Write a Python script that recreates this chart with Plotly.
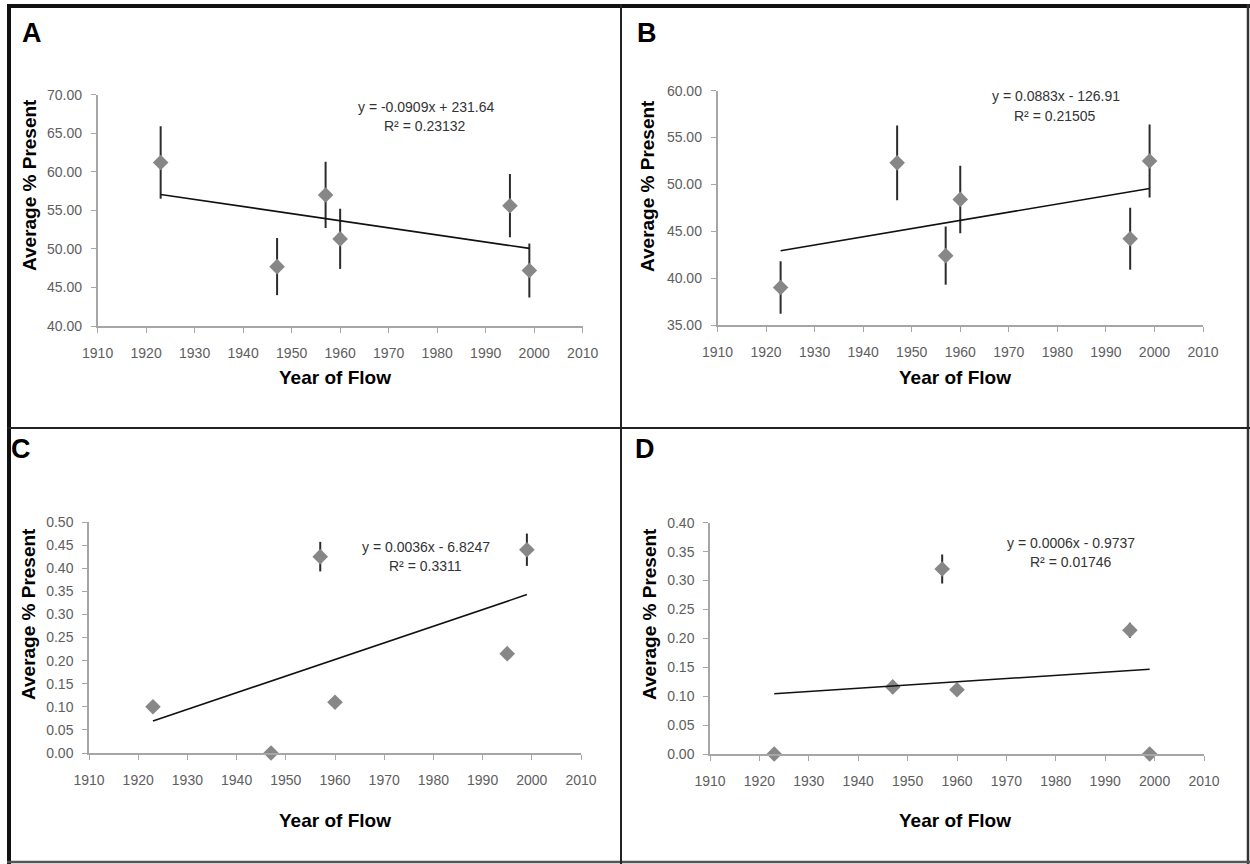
import numpy as np
import plotly.graph_objects as go

W, H = 1250, 864

# ---------------- data ----------------
years = [1923, 1947, 1957, 1960, 1995, 1999]

a_vals = [61.2, 47.7, 57.0, 51.3, 55.6, 47.2]
a_err = [4.7, 3.7, 4.3, 3.9, 4.1, 3.5]

b_vals = [39.0, 52.3, 42.4, 48.4, 44.2, 52.5]
b_err = [2.8, 4.0, 3.1, 3.6, 3.3, 3.9]

c_vals = [0.10, 0.00, 0.425, 0.11, 0.215, 0.44]
c_err = [0.01, 0.0, 0.032, 0.01, 0.01, 0.035]

d_vals = [0.00, 0.116, 0.32, 0.111, 0.214, 0.00]
d_err = [0.0, 0.012, 0.025, 0.006, 0.013, 0.0]

panel_letters = ["A", "B", "C", "D"]
equations = ["y = -0.0909x + 231.64", "y = 0.0883x - 126.91",
             "y = 0.0036x - 6.8247", "y = 0.0006x - 0.9737"]
r2_texts = ["R² = 0.23132", "R² = 0.21505", "R² = 0.3311", "R² = 0.01746"]
y_ranges = [(40, 70), (35, 60), (0, 0.5), (0, 0.4)]
y_dticks = [5, 5, 0.05, 0.05]
x_range = (1910, 2010)
x_title = "Year of Flow"
y_title = "Average % Present"

# ---------------- layout geometry (pixels) ----------------
def fx(x):
    return x / W

def fy(y):
    return 1 - y / H

# plot area pixel boxes: (left, right, top, bottom)
boxes = [(97.6, 582.7, 94.7, 326.0),
         (717.5, 1203.0, 90.7, 325.0),
         (89.0, 581.0, 522.0, 753.0),
         (710.0, 1204.0, 522.7, 754.0)]
letter_pos = [(32, 33), (647, 33), (21, 449), (645, 449)]
ytitle_pos = [(30, 185), (647, 186), (28, 614), (649, 614)]
xtitle_pos = [(335, 377), (955, 377), (335, 820), (955, 820)]
eq_pos = [(426, 107), (1056, 96), (426, 547), (1071, 543)]
r2_pos = [(425, 126), (1055, 116), (425, 566), (1071, 562)]

series = [(a_vals, a_err), (b_vals, b_err), (c_vals, c_err), (d_vals, d_err)]

fig = go.Figure()
TICK_FONT = dict(family="Liberation Sans, Arial, sans-serif", size=14, color="#5e5e5e")
AXIS_COLOR = "#a6a6a6"

annotations = []
for i, ((vals, errs), box) in enumerate(zip(series, boxes)):
    n = "" if i == 0 else str(i + 1)
    xa, ya = "x" + n, "y" + n
    # points with error bars
    fig.add_trace(go.Scatter(
        x=years, y=vals, mode="markers", xaxis=xa, yaxis=ya,
        marker=dict(symbol="diamond", size=12, color="#878787"),
        error_y=dict(type="data", array=errs, visible=True, color="#2b2b2b",
                     thickness=2, width=0),
        cliponaxis=False, showlegend=False))
    # linear trend line fitted from the data
    slope, icpt = np.polyfit(years, vals, 1)
    tx = [min(years), max(years)]
    ty = [slope * t + icpt for t in tx]
    fig.add_trace(go.Scatter(
        x=tx, y=ty, mode="lines", xaxis=xa, yaxis=ya,
        line=dict(color="#111111", width=1.6), showlegend=False,
        cliponaxis=False))

    left, right, top, bottom = box
    fig.layout["xaxis" + n] = dict(
        domain=[fx(left), fx(right)], range=list(x_range), anchor=ya,
        dtick=10, tick0=1910, showgrid=False, zeroline=False,
        showline=True, linecolor=AXIS_COLOR, linewidth=1.5,
        ticks="outside", ticklen=5, tickcolor=AXIS_COLOR, tickwidth=1.2,
        tickfont=TICK_FONT, ticklabelstandoff=8, fixedrange=True,
        automargin=False)
    fig.layout["yaxis" + n] = dict(
        domain=[fy(bottom), fy(top)], range=list(y_ranges[i]), anchor=xa,
        dtick=y_dticks[i], tick0=0, tickformat=".2f", showgrid=False,
        zeroline=False, showline=True, linecolor=AXIS_COLOR, linewidth=1.5,
        ticks="outside", ticklen=5, tickcolor=AXIS_COLOR, tickwidth=1.2,
        tickfont=TICK_FONT, ticklabelstandoff=6, fixedrange=True,
        automargin=False)

    lx, ly = letter_pos[i]
    annotations.append(dict(
        text="<b>%s</b>" % panel_letters[i], x=fx(lx), y=fy(ly),
        xref="paper", yref="paper", showarrow=False, xanchor="center",
        yanchor="middle", font=dict(family="Liberation Sans, Arial", size=27,
                                    color="#000000")))
    tx_, ty_ = ytitle_pos[i]
    annotations.append(dict(
        text="<b>%s</b>" % y_title, x=fx(tx_), y=fy(ty_), textangle=-90,
        xref="paper", yref="paper", showarrow=False, xanchor="center",
        yanchor="middle", font=dict(family="Liberation Sans, Arial", size=19,
                                    color="#000000")))
    tx_, ty_ = xtitle_pos[i]
    annotations.append(dict(
        text="<b>%s</b>" % x_title, x=fx(tx_), y=fy(ty_),
        xref="paper", yref="paper", showarrow=False, xanchor="center",
        yanchor="middle", font=dict(family="Liberation Sans, Arial", size=19,
                                    color="#000000")))
    ex, ey = eq_pos[i]
    annotations.append(dict(
        text=equations[i], x=fx(ex), y=fy(ey),
        xref="paper", yref="paper", showarrow=False, xanchor="center",
        yanchor="middle", font=dict(family="Liberation Sans, Arial", size=14,
                                    color="#333333")))
    rx, ry = r2_pos[i]
    annotations.append(dict(
        text=r2_texts[i], x=fx(rx), y=fy(ry),
        xref="paper", yref="paper", showarrow=False, xanchor="center",
        yanchor="middle", font=dict(family="Liberation Sans, Arial", size=14,
                                    color="#333333")))

# frame and divider lines
def pline(x0, y0, x1, y1, color, width):
    return dict(type="line", xref="paper", yref="paper",
                x0=fx(x0), y0=fy(y0), x1=fx(x1), y1=fy(y1),
                line=dict(color=color, width=width), layer="above")

shapes = [
    pline(9, 4, 9, 864, "#111111", 4),        # left
    pline(7, 6, 1250, 6, "#111111", 4),       # top
    pline(1248, 4, 1248, 864, "#333333", 2.5),  # right
    pline(7, 862, 1250, 862, "#555555", 2.5),   # bottom
    pline(621, 4, 621, 864, "#222222", 2),    # vertical divider
    pline(7, 428, 1250, 428, "#222222", 2),   # horizontal divider
]

fig.update_layout(
    template="none",
    width=W, height=H, margin=dict(l=0, r=0, t=0, b=0, autoexpand=False),
    paper_bgcolor="white", plot_bgcolor="white", showlegend=False,
    annotations=annotations, shapes=shapes,
    font=dict(family="Liberation Sans, Arial, sans-serif"))

fig.write_html("out.html")
